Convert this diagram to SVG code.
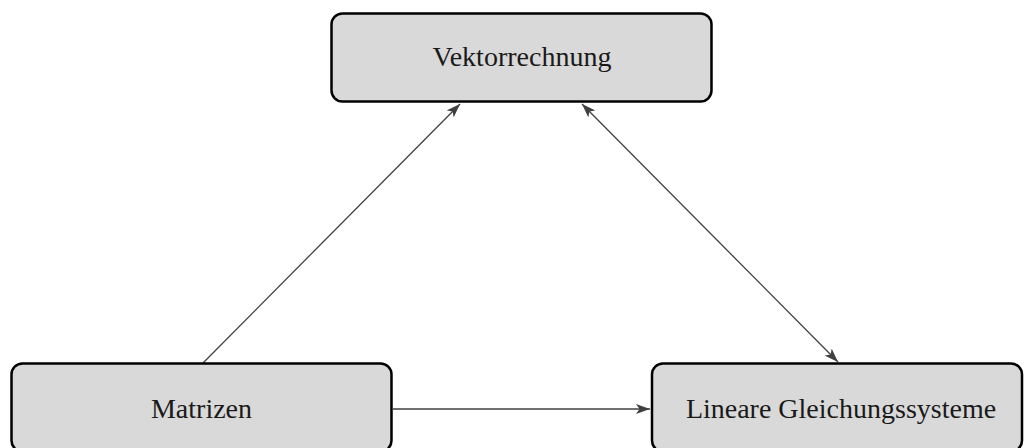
<svg xmlns="http://www.w3.org/2000/svg" width="1024" height="448" viewBox="0 0 1024 448">
<style>
.box{fill:#d9d9d9;stroke:#000;stroke-width:2.5}
.lbl{font-family:"Liberation Serif",serif;font-size:28px;fill:#1a1a1a;text-anchor:middle}
.edge{stroke:#404040;stroke-width:1.3;fill:none}
</style>
<defs>
<marker id="ah" viewBox="0 0 14 10" refX="14" refY="5" markerWidth="14" markerHeight="10" markerUnits="userSpaceOnUse" orient="auto-start-reverse">
<path d="M0,0 L14,5 L0,10 L3.5,5 Z" fill="#404040"/>
</marker>
</defs>
<g id="connectors">
<line class="edge" x1="203" y1="363" x2="460" y2="104" marker-end="url(#ah)"/>
<line class="edge" x1="582" y1="104" x2="838" y2="362" marker-start="url(#ah)" marker-end="url(#ah)"/>
<line class="edge" x1="393" y1="409" x2="650" y2="409" marker-end="url(#ah)"/>
</g>
<g id="vektorrechnung">
<rect class="box" x="331.5" y="13.5" width="380" height="88" rx="11"/>
<text class="lbl" x="522" y="66">Vektorrechnung</text>
</g>
<g id="matrizen">
<rect class="box" x="11.5" y="363.5" width="380" height="88" rx="11"/>
<text class="lbl" x="201.5" y="418">Matrizen</text>
</g>
<g id="lineare">
<rect class="box" x="652" y="363.5" width="370" height="88" rx="11"/>
<text class="lbl" x="841" y="418">Lineare Gleichungssysteme</text>
</g>
</svg>
